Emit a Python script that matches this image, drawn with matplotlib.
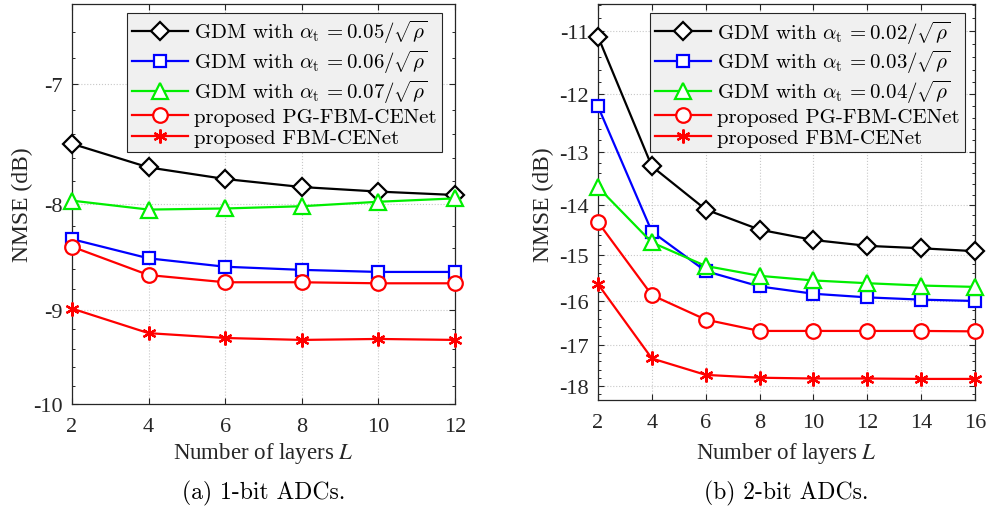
import numpy as np
import matplotlib
matplotlib.use("Agg")
import matplotlib.pyplot as plt
from matplotlib.ticker import MultipleLocator, FixedLocator, FuncFormatter

plt.rcParams["mathtext.fontset"] = "cm"
plt.rcParams["axes.unicode_minus"] = False

# ---- data: NMSE (dB) versus number of layers ----
layers_a = [2, 4, 6, 8, 10, 12]
gdm_005 = [-7.48, -7.68, -7.78, -7.85, -7.89, -7.92]
gdm_006 = [-8.32, -8.50, -8.58, -8.61, -8.63, -8.63]
gdm_007 = [-7.97, -8.05, -8.04, -8.02, -7.98, -7.95]
pg_fbm_a = [-8.39, -8.66, -8.73, -8.73, -8.74, -8.74]
fbm_a = [-8.99, -9.24, -9.29, -9.31, -9.30, -9.31]

layers_b = [2, 4, 6, 8, 10, 12, 14, 16]
gdm_002 = [-11.08, -13.27, -14.09, -14.49, -14.70, -14.82, -14.87, -14.93]
gdm_003 = [-12.21, -14.53, -15.35, -15.68, -15.84, -15.92, -15.97, -16.00]
gdm_004 = [-13.66, -14.75, -15.24, -15.45, -15.55, -15.61, -15.66, -15.69]
pg_fbm_b = [-14.34, -15.87, -16.42, -16.68, -16.68, -16.68, -16.68, -16.69]
fbm_b = [-15.63, -17.33, -17.73, -17.80, -17.82, -17.82, -17.83, -17.83]

labels_a = [r"GDM with $\alpha_{\mathrm{t}}\, = 0.05/\sqrt{\rho}$",
            r"GDM with $\alpha_{\mathrm{t}}\, = 0.06/\sqrt{\rho}$",
            r"GDM with $\alpha_{\mathrm{t}}\, = 0.07/\sqrt{\rho}$",
            "proposed PG-FBM-CENet",
            "proposed FBM-CENet"]
labels_b = [r"GDM with $\alpha_{\mathrm{t}}\, = 0.02/\sqrt{\rho}$",
            r"GDM with $\alpha_{\mathrm{t}}\, = 0.03/\sqrt{\rho}$",
            r"GDM with $\alpha_{\mathrm{t}}\, = 0.04/\sqrt{\rho}$",
            "proposed PG-FBM-CENet",
            "proposed FBM-CENet"]

xticks_a = [2, 4, 6, 8, 10, 12]
xticks_b = [2, 4, 6, 8, 10, 12, 14, 16]
yticks_a = [-10, -9, -8, -7]
yticks_b = [-18, -17, -16, -15, -14, -13, -12, -11]
ylim_a = (-10.0, -6.40)
ylim_b = (-18.36, -10.59)
captions = ["(a) 1-bit ADCs.", "(b) 2-bit ADCs."]

colors = ["#000000", "#0000ff", "#00ee00", "#ff0000", "#ff0000"]
markers = ["D", "s", "^", "o", (6, 2, 0)]
msizes = [9, 9, 11, 10.5, 10]

TICK_FONT = "Liberation Serif"
CM_FONT = "cmr10"


# NMSE axis drawn on a logarithmic scale of |dB|
def fwd(y):
    y = np.asarray(y, dtype=float)
    with np.errstate(all="ignore"):
        return -np.log(np.maximum(-y, 1e-300))


def inv(u):
    return -np.exp(-np.asarray(u, dtype=float))


fig = plt.figure(figsize=(9.9, 5.1), dpi=100)
W, H = 990, 510


def px_axes(x0, x1, ytop, ybot):
    return fig.add_axes([x0 / W, 1 - ybot / H, (x1 - x0) / W, (ybot - ytop) / H])


ax_a = px_axes(72, 455, 5, 405)
ax_b = px_axes(598, 975, 5, 401)

panels = [
    (ax_a, layers_a, [gdm_005, gdm_006, gdm_007, pg_fbm_a, fbm_a], labels_a,
     xticks_a, yticks_a, ylim_a, (0.966, 0.9775)),
    (ax_b, layers_b, [gdm_002, gdm_003, gdm_004, pg_fbm_b, fbm_b], labels_b,
     xticks_b, yticks_b, ylim_b, (0.9735, 0.977)),
]

for ax, xs, series, labels, xt, yt, yl, anchor in panels:
    ax.set_yscale("function", functions=(fwd, inv))
    for ys, lab, c, m, ms in zip(series, labels, colors, markers, msizes):
        face = "none" if m == (6, 2, 0) else "white"
        ax.plot(xs, ys, color=c, lw=1.6, marker=m, ms=ms, mfc=face,
                mec=c, mew=1.6, label=lab, zorder=3, clip_on=False)
    ax.set_xlim(xt[0], xt[-1])
    ax.set_ylim(*yl)
    ax.set_xticks(xt)
    ax.yaxis.set_major_locator(FixedLocator(yt))
    ax.yaxis.set_minor_locator(MultipleLocator(0.2))
    ax.yaxis.set_major_formatter(FuncFormatter(lambda v, p: "%d" % round(v)))
    ax.yaxis.set_minor_formatter(FuncFormatter(lambda v, p: ""))
    ax.grid(True, which="major", ls=":", lw=0.8, color="#c8c8c8")
    ax.tick_params(which="both", direction="in", top=True, right=True,
                   colors="#262626", labelcolor="#262626")
    ax.tick_params(which="major", length=4.5, width=0.8, labelsize=16)
    ax.tick_params(which="minor", length=2.5, width=0.7)
    ax.tick_params(axis="y", pad=6.5)
    ax.tick_params(axis="x", pad=9.5)
    for lab in ax.get_xticklabels() + ax.get_yticklabels():
        lab.set_fontfamily(TICK_FONT)
    for sp in ax.spines.values():
        sp.set_color("#262626")
        sp.set_linewidth(0.9)
    leg = ax.legend(loc="upper right", bbox_to_anchor=anchor,
                    bbox_transform=ax.transAxes, borderaxespad=0,
                    prop={"family": CM_FONT, "size": 15},
                    handlelength=2.7, handletextpad=0.3, labelspacing=0.12,
                    borderpad=0.25, fancybox=False, framealpha=1)
    leg.get_frame().set_facecolor("#f0f0f0")
    leg.get_frame().set_edgecolor("#262626")
    leg.get_frame().set_linewidth(0.8)
    leg.set_zorder(5)

# axis titles and captions
for ax, ylx, cap in [(ax_a, 22, captions[0]), (ax_b, 543, captions[1])]:
    pos = ax.get_position()
    cx = pos.x0 + pos.width / 2
    fig.text(cx, 1 - 454 / H, "Number of layers $L$", ha="center", va="center",
             fontsize=16.5, family=TICK_FONT, color="#262626",
             math_fontfamily="stix")
    fig.text(ylx / W, 1 - 205 / H, "NMSE (dB)", ha="center", va="center",
             rotation=90, fontsize=17, family=TICK_FONT, color="#262626")
    fig.text(cx, 1 - 493 / H, cap, ha="center", va="center",
             fontsize=17, family=CM_FONT, color="#000000")

fig.savefig("out.png", dpi=100)
